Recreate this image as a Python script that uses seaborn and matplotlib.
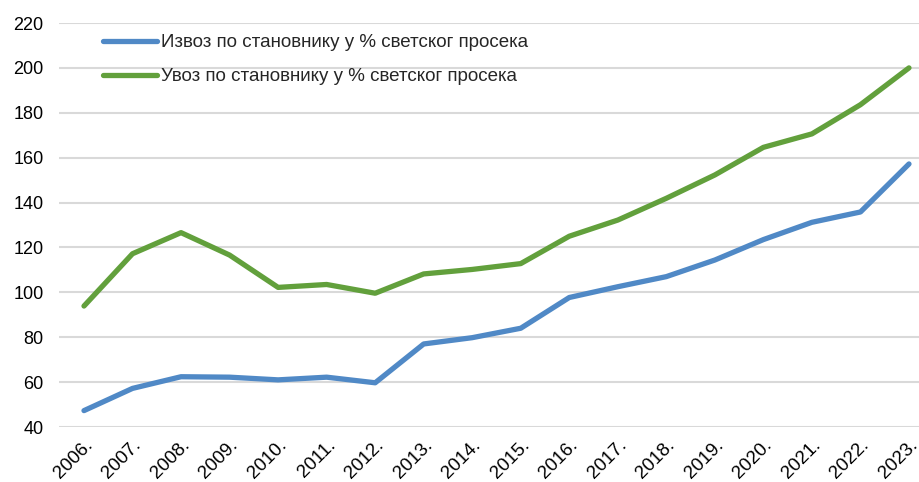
import numpy as np
import pandas as pd
import matplotlib
matplotlib.use("Agg")
import matplotlib.pyplot as plt
import seaborn as sns

# data
years = ["2006.", "2007.", "2008.", "2009.", "2010.", "2011.", "2012.", "2013.", "2014.",
         "2015.", "2016.", "2017.", "2018.", "2019.", "2020.", "2021.", "2022.", "2023."]
export_pc = [47.3, 57.2, 62.4, 62.2, 61.0, 62.2, 59.7, 77.0, 79.8,
             84.0, 97.7, 102.5, 107.0, 114.4, 123.5, 131.2, 135.8, 157.2]
import_pc = [93.9, 117.2, 126.6, 116.6, 102.2, 103.5, 99.6, 108.2, 110.2,
             112.8, 125.0, 132.2, 141.9, 152.3, 164.6, 170.6, 183.6, 200.0]
label_export = "Извоз по становнику у % светског просека"
label_import = "Увоз по становнику у % светског просека"
y_ticks = [40, 60, 80, 100, 120, 140, 160, 180, 200, 220]

sns.set_theme(style="white")
plt.rcParams["font.family"] = ["Liberation Sans", "DejaVu Sans"]

df = pd.DataFrame({
    "x": list(range(len(years))) * 2,
    "value": export_pc + import_pc,
    "series": [label_export] * len(years) + [label_import] * len(years),
})

W, H = 920, 482
fig = plt.figure(figsize=(W / 100, H / 100), dpi=100)
# plot area: left edge at 59px, 220 at 23px, 40 at 427px
ax = fig.add_axes([59 / W, 1 - 427 / H, 1 - 59 / W, (427 - 23) / H])

sns.lineplot(data=df, x="x", y="value", hue="series",
             palette={label_export: "#5089C6", label_import: "#62A03C"},
             linewidth=3.8, ax=ax, solid_capstyle="round", solid_joinstyle="round")

ax.set_ylim(40, 220)
ax.set_yticks(y_ticks)
ax.set_xlim(-0.515, 17.227)
ax.set_xticks(range(len(years)))
ax.set_xticklabels(years, rotation=45, ha="right", rotation_mode="anchor")
ax.tick_params(axis="both", length=0, labelsize=13, colors="#000000")
ax.tick_params(axis="y", pad=11)
ax.tick_params(axis="x", pad=7, labelsize=13.5)
ax.set_xlabel("")
ax.set_ylabel("")
ax.grid(axis="y", color="#D9D9D9", linewidth=1.5)
ax.set_axisbelow(True)
for s in ax.spines.values():
    s.set_visible(False)

leg = ax.legend(loc="upper left", bbox_to_anchor=(103 / W, 1 - 34 / H),
                bbox_transform=fig.transFigure, frameon=False, borderpad=0,
                borderaxespad=0, fontsize=13.5, handlelength=2.9,
                handletextpad=0.2, labelspacing=0.9)

fig.savefig("out.png", dpi=100)
